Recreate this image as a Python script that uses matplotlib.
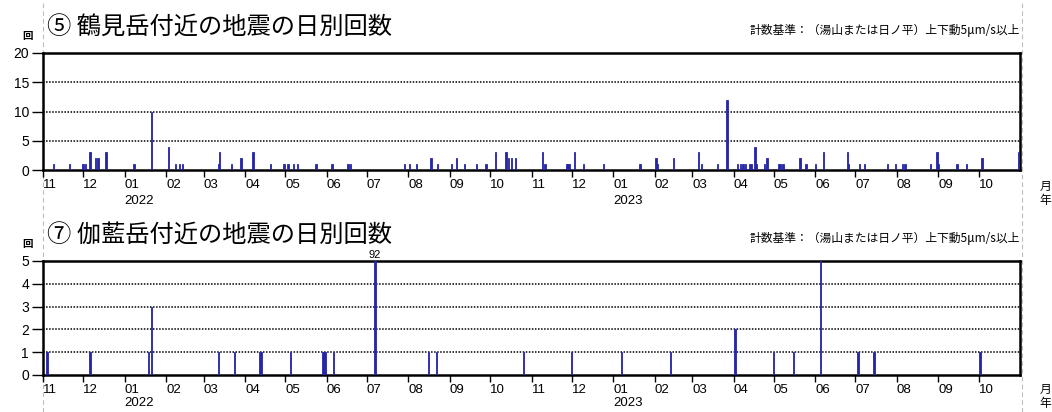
import pandas as pd
import matplotlib.pyplot as plt
from matplotlib.lines import Line2D

plt.rcParams['font.family'] = ['Noto Sans CJK JP', 'DejaVu Sans']

# Daily earthquake counts near Tsurumi-dake (panel 5)
top_dates = ['2021-11-09', '2021-11-21', '2021-12-01', '2021-12-03', '2021-12-06',
             '2021-12-10', '2021-12-12', '2021-12-18', '2022-01-08', '2022-01-21',
             '2022-02-03', '2022-02-08', '2022-02-11', '2022-02-13', '2022-03-12',
             '2022-03-13', '2022-03-22', '2022-03-29', '2022-04-07', '2022-04-20',
             '2022-04-30', '2022-05-03', '2022-05-07', '2022-05-10', '2022-05-24',
             '2022-06-05', '2022-06-17', '2022-06-19', '2022-07-29', '2022-08-02',
             '2022-08-07', '2022-08-18', '2022-08-23', '2022-09-02', '2022-09-06',
             '2022-09-12', '2022-09-21', '2022-09-28', '2022-10-05', '2022-10-13',
             '2022-10-15', '2022-10-17', '2022-10-20', '2022-11-09', '2022-11-11',
             '2022-11-27', '2022-11-28', '2022-11-29', '2022-12-03', '2022-12-10',
             '2022-12-25', '2023-01-21', '2023-02-02', '2023-02-03', '2023-02-15',
             '2023-03-06', '2023-03-08', '2023-03-20', '2023-03-27', '2023-04-04',
             '2023-04-06', '2023-04-08', '2023-04-10', '2023-04-13', '2023-04-14',
             '2023-04-17', '2023-04-18', '2023-04-24', '2023-04-26', '2023-05-05',
             '2023-05-06', '2023-05-08', '2023-05-20', '2023-05-21', '2023-05-25',
             '2023-06-01', '2023-06-07', '2023-06-25', '2023-06-26', '2023-07-04',
             '2023-07-08', '2023-07-25', '2023-07-31', '2023-08-05', '2023-08-07',
             '2023-08-26', '2023-08-31', '2023-09-01', '2023-09-15', '2023-09-22',
             '2023-10-03', '2023-10-04', '2023-10-31']
top_counts = [1, 1, 1, 1, 3,
              2, 2, 3, 1, 10,
              4, 1, 1, 1, 1,
              3, 1, 2, 3, 1,
              1, 1, 1, 1, 1,
              1, 1, 1, 1, 1,
              1, 2, 1, 1, 2,
              1, 1, 1, 3, 3,
              2, 2, 2, 3, 1,
              1, 1, 1, 3, 1,
              1, 1, 2, 1, 2,
              3, 1, 1, 12, 1,
              1, 1, 1, 1, 1,
              4, 1, 1, 2, 1,
              1, 1, 2, 2, 1,
              1, 3, 3, 1, 1,
              1, 1, 1, 1, 1,
              1, 3, 1, 1, 1,
              2, 2, 3]

# Daily earthquake counts near Garan-dake (panel 7)
bottom_dates = ['2021-11-04', '2021-12-06', '2022-01-19', '2022-01-21', '2022-03-12',
                '2022-03-24', '2022-04-12', '2022-04-13', '2022-05-05', '2022-05-29',
                '2022-05-30', '2022-05-31', '2022-06-06', '2022-07-07', '2022-08-16',
                '2022-08-22', '2022-10-26', '2022-12-01', '2023-01-07', '2023-02-13',
                '2023-04-02', '2023-05-01', '2023-05-16', '2023-06-05', '2023-07-03',
                '2023-07-15', '2023-10-02']
bottom_counts = [1, 1, 1, 3, 1,
                 1, 1, 1, 1, 1,
                 1, 1, 1, 92, 1,
                 1, 1, 1, 1, 1,
                 2, 1, 1, 5, 1,
                 1, 1]

titles = ['⑤ 鶴見岳付近の地震の日別回数', '⑦ 伽藍岳付近の地震の日別回数']
note = '計数基準：（湯山または日ノ平）上下動5μm/s以上'
y_max = [20, 5]
y_ticks = [[0, 5, 10, 15, 20], [0, 1, 2, 3, 4, 5]]
years = ['2022', '2023']

start = pd.Timestamp('2021-11-01')
end = pd.Timestamp('2023-11-01')
months = pd.date_range(start, '2023-10-01', freq='MS')
januaries = [m for m in months if m.month == 1]

fig = plt.figure(figsize=(10.52, 4.12), dpi=100)

# page border dashes
for xf in [42.5 / 1052, 1021.5 / 1052]:
    fig.add_artist(Line2D([xf, xf], [0, 1], transform=fig.transFigure,
                          color='#bbbbbb', lw=0.8, ls=(0, (4, 3)), zorder=0))

ax_top = fig.add_axes([43 / 1052, 1 - 170 / 412, 977 / 1052, 117 / 412])
ax_bot = fig.add_axes([43 / 1052, 1 - 375 / 412, 977 / 1052, 114 / 412])

panels = [(ax_top, top_dates, top_counts), (ax_bot, bottom_dates, bottom_counts)]
# how far below the axis the year / 年 sits (points); the lower panel is squeezed by the page edge
year_drop = [22, 20.5]

for i, (ax, dates, counts) in enumerate(panels):
    d = pd.to_datetime(dates)
    ax.bar(d, counts, width=1.0, color='#2626a6', edgecolor='#2626a6', linewidth=0.6, zorder=3)
    ax.set_xlim(start, end)
    ax.set_ylim(0, y_max[i])

    # values beyond the scale get a label at the top
    for di, c in zip(d, counts):
        if c > y_max[i]:
            ax.annotate(str(c), (di, y_max[i]), xytext=(0, 1), textcoords='offset points',
                        ha='center', va='bottom', fontsize=8, family='Liberation Sans')

    ax.set_yticks(y_ticks[i])
    for g in y_ticks[i][1:-1]:
        ax.axhline(g, color='black', lw=1.1, ls=(0, (1, 1)), zorder=2)

    ax.set_xticks(months)
    ax.set_xticklabels([m.strftime('%m') for m in months], ha='left')
    ax.set_xticks(januaries, minor=True)
    ax.tick_params(axis='x', which='major', length=5, width=1, pad=1.5, labelsize=9.5)
    ax.tick_params(axis='x', which='minor', length=12, width=1.2)
    ax.tick_params(axis='y', length=8, width=1, pad=2, labelsize=10)
    for lab in ax.get_xticklabels() + ax.get_yticklabels():
        lab.set_family('Liberation Sans')
    for s in ax.spines.values():
        s.set_linewidth(1.8)

    ax.annotate('回', (0, 1), xycoords='axes fraction', xytext=(-15, 12),
                textcoords='offset points', fontsize=7.5, fontweight='bold', ha='left', va='center')
    ax.annotate(titles[i], (0, 1), xycoords='axes fraction', xytext=(3, 18),
                textcoords='offset points', fontsize=17.5, ha='left', va='center')
    ax.annotate(note, (1, 1), xycoords='axes fraction', xytext=(0, 16),
                textcoords='offset points', fontsize=8.5, ha='right', va='center')
    ax.annotate('月', (1.0, 0), xycoords='axes fraction', xytext=(14, -year_drop[i] + 10),
                textcoords='offset points', fontsize=8.5, ha='left', va='center')
    ax.annotate('年', (1.0, 0), xycoords='axes fraction', xytext=(14, -year_drop[i]),
                textcoords='offset points', fontsize=8.5, ha='left', va='center')
    for j, jan in enumerate(januaries):
        ax.annotate(years[j], (jan, 0), xycoords=('data', 'axes fraction'),
                    xytext=(0, -year_drop[i]), textcoords='offset points',
                    fontsize=9.5, family='Liberation Sans', ha='left', va='center')

fig.savefig('out.png', dpi=100)
